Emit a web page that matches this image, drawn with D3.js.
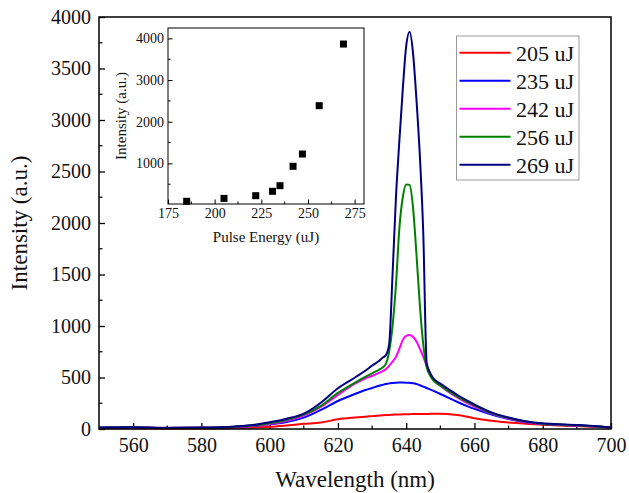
<!DOCTYPE html>
<html>
<head>
<meta charset="utf-8">
<script src="https://cdn.jsdelivr.net/npm/d3@7"></script>
<style>
  html, body { margin: 0; padding: 0; background: #fff; }
  svg { display: block; }
  svg text { font-family: 'Liberation Serif', 'Times New Roman', serif; }
</style>
</head>
<body>
<svg id="chart" width="629" height="493"></svg>
<script>
// ---------- DATA ----------
const wavelengths = [550,560,570,580,590,595,600,605,610,615,620,625,628,630,632,633,634,635,636,637,638,639,640,641,642,643,644,645,646,647,648,650,652,655,658,660,665,670,675,680,685,690,695,700];

const s205 = [8,8,5,6,10,15,22,35,50,62,95,112,120,125,130,133,136,137,139,140,141,142,143,144,145,145,146,146,146,147,147,147,145,135,118,105,80,62,52,42,35,28,22,15];
const s235 = [12,16,10,12,18,28,45,68,110,185,272,340,378,398,420,428,436,443,447,450,451,451,450,448,445,437,425,412,398,385,370,340,310,262,220,195,140,96,66,48,40,34,26,14];
const s242 = [12,14,10,12,20,30,48,80,130,215,330,440,490,515,545,560,580,615,655,700,780,865,905,913,895,850,780,700,615,540,480,420,370,305,250,218,150,102,68,50,42,35,26,14];
const s256 = [12,15,10,12,22,33,55,90,140,225,350,450,505,540,575,595,630,750,1000,1400,1950,2250,2375,2370,2150,1700,1200,820,600,520,470,420,375,315,260,228,155,106,72,52,44,36,27,15];
const s269 = [15,18,12,14,25,38,65,100,150,255,395,500,565,615,660,690,715,820,1500,2250,2800,3300,3720,3857,3650,3200,2650,1900,640,545,490,440,395,330,272,238,162,112,76,55,46,38,28,15];

const seriesNames = ["205 uJ","235 uJ","242 uJ","256 uJ","269 uJ"];
const seriesColors = ["#ff0000","#0000ff","#ff00ff","#008000","#000080"];
const seriesValues = [s205, s235, s242, s256, s269];

const xTicks = [560,580,600,620,640,660,680,700];
const yTicks = [0,500,1000,1500,2000,2500,3000,3500,4000];

// inset data
const pulseEnergy = [185,205,222,231,235,242,247,256,269];
const peakIntensity = [90,160,225,330,465,930,1225,2385,3865];
const insetXTicks = [175,200,225,250,275];
const insetYTicks = [1000,2000,3000,4000];

// ---------- CHART ----------
const FONT = "'Liberation Serif', 'Times New Roman', serif";
const svg = d3.select("#chart");

const M = {left: 99, top: 17, right: 611, bottom: 429};
const x = d3.scaleLinear().domain([550, 700]).range([M.left, M.right]);
const y = d3.scaleLinear().domain([0, 4000]).range([M.bottom, M.top]);

// minor ticks
const gMinor = svg.append("g").attr("stroke", "#000").attr("stroke-width", 1.2);
d3.range(570, 700, 20).forEach(v => {
  gMinor.append("line").attr("x1", x(v)).attr("x2", x(v)).attr("y1", M.bottom).attr("y2", M.bottom - 3.5);
});
d3.range(250, 4000, 500).forEach(v => {
  gMinor.append("line").attr("x1", M.left).attr("x2", M.left + 3.5).attr("y1", y(v)).attr("y2", y(v));
});

// axes
const xAxis = svg.append("g")
  .attr("transform", `translate(0,${M.bottom})`)
  .call(d3.axisBottom(x).tickValues(xTicks).tickFormat(d3.format("d")).tickSizeInner(-6).tickSizeOuter(0).tickPadding(9));
const yAxis = svg.append("g")
  .attr("transform", `translate(${M.left},0)`)
  .call(d3.axisLeft(y).tickValues(yTicks).tickFormat(d3.format("d")).tickSizeInner(-6).tickSizeOuter(0).tickPadding(8));
[xAxis, yAxis].forEach(g => {
  g.attr("font-family", null).attr("font-size", null);
  g.select(".domain").remove();
  g.selectAll(".tick line").attr("stroke", "#000").attr("stroke-width", 1.3);
  g.selectAll(".tick text").style("font-family", FONT).style("font-size", "20px").attr("fill", "#111");
});

// curves
const line = d3.line()
  .x((d, i) => x(wavelengths[i]))
  .y(d => y(d))
  .curve(d3.curveMonotoneX);

const gLines = svg.append("g");
seriesValues.forEach((vals, k) => {
  gLines.append("path")
    .attr("d", line(vals))
    .attr("fill", "none")
    .attr("stroke", seriesColors[k])
    .attr("stroke-width", 2)
    .attr("stroke-linejoin", "round");
});

// frame
svg.append("rect")
  .attr("x", M.left).attr("y", M.top)
  .attr("width", M.right - M.left).attr("height", M.bottom - M.top)
  .attr("fill", "none").attr("stroke", "#000").attr("stroke-width", 1.5);

// axis titles
svg.append("text")
  .attr("x", (M.left + M.right) / 2).attr("y", 487)
  .attr("text-anchor", "middle").style("font-family", FONT).style("font-size", "23px").attr("fill", "#111")
  .text("Wavelength (nm)");
svg.append("text")
  .attr("transform", `translate(27,${(M.top + M.bottom) / 2}) rotate(-90)`)
  .attr("text-anchor", "middle").style("font-family", FONT).style("font-size", "23px").attr("fill", "#111")
  .text("Intensity (a.u.)");

// legend
const lg = svg.append("g");
lg.append("rect").attr("x", 456.5).attr("y", 36).attr("width", 122.5).attr("height", 144)
  .attr("fill", "#fff").attr("stroke", "#9a9a9a").attr("stroke-width", 1);
seriesNames.forEach((name, k) => {
  const yy = 52.7 + k * 28;
  lg.append("line").attr("x1", 459.5).attr("x2", 510.5).attr("y1", yy).attr("y2", yy)
    .attr("stroke", seriesColors[k]).attr("stroke-width", 2);
  lg.append("text").attr("x", 516).attr("y", yy + 8).style("font-family", FONT).style("font-size", "22px")
    .attr("fill", "#111").text(name);
});

// ---------- INSET ----------
const I = {left: 168, top: 28, right: 364, bottom: 204};
const ix = d3.scaleLinear().domain([175, 280]).range([I.left, I.right]);
const iy = d3.scaleLinear().domain([25, 4250]).range([I.bottom, I.top]);

const gi = svg.append("g");
gi.append("rect").attr("x", I.left).attr("y", I.top).attr("width", I.right - I.left).attr("height", I.bottom - I.top)
  .attr("fill", "#fff");

const giMinor = gi.append("g").attr("stroke", "#000").attr("stroke-width", 1);
[187.5, 212.5, 237.5, 262.5].forEach(v => {
  giMinor.append("line").attr("x1", ix(v)).attr("x2", ix(v)).attr("y1", I.bottom).attr("y2", I.bottom - 2.5);
});
[500, 1500, 2500, 3500].forEach(v => {
  giMinor.append("line").attr("x1", I.left).attr("x2", I.left + 2.5).attr("y1", iy(v)).attr("y2", iy(v));
});

const ixAxis = gi.append("g").attr("transform", `translate(0,${I.bottom})`)
  .call(d3.axisBottom(ix).tickValues(insetXTicks).tickFormat(d3.format("d")).tickSizeInner(-4.5).tickSizeOuter(0).tickPadding(4));
const iyAxis = gi.append("g").attr("transform", `translate(${I.left},0)`)
  .call(d3.axisLeft(iy).tickValues(insetYTicks).tickFormat(d3.format("d")).tickSizeInner(-4.5).tickSizeOuter(0).tickPadding(4));
[ixAxis, iyAxis].forEach(g => {
  g.attr("font-family", null).attr("font-size", null);
  g.select(".domain").remove();
  g.selectAll(".tick line").attr("stroke", "#000").attr("stroke-width", 1);
  g.selectAll(".tick text").style("font-family", FONT).style("font-size", "14px").attr("fill", "#111");
});

gi.selectAll("rect.pt").data(pulseEnergy).enter().append("rect")
  .attr("class", "pt")
  .attr("x", (d) => ix(d) - 3.5)
  .attr("y", (d, i) => iy(peakIntensity[i]) - 3.5)
  .attr("width", 7).attr("height", 7).attr("fill", "#000");

gi.append("rect").attr("x", I.left).attr("y", I.top).attr("width", I.right - I.left).attr("height", I.bottom - I.top)
  .attr("fill", "none").attr("stroke", "#000").attr("stroke-width", 1);

gi.append("text").attr("x", (I.left + I.right) / 2).attr("y", 242)
  .attr("text-anchor", "middle").style("font-family", FONT).style("font-size", "15px").attr("fill", "#111").text("Pulse Energy (uJ)");
gi.append("text").attr("transform", `translate(126,${(I.top + I.bottom) / 2}) rotate(-90)`)
  .attr("text-anchor", "middle").style("font-family", FONT).style("font-size", "15px").attr("fill", "#111").text("Intensity (a.u.)");
</script>
</body>
</html>
